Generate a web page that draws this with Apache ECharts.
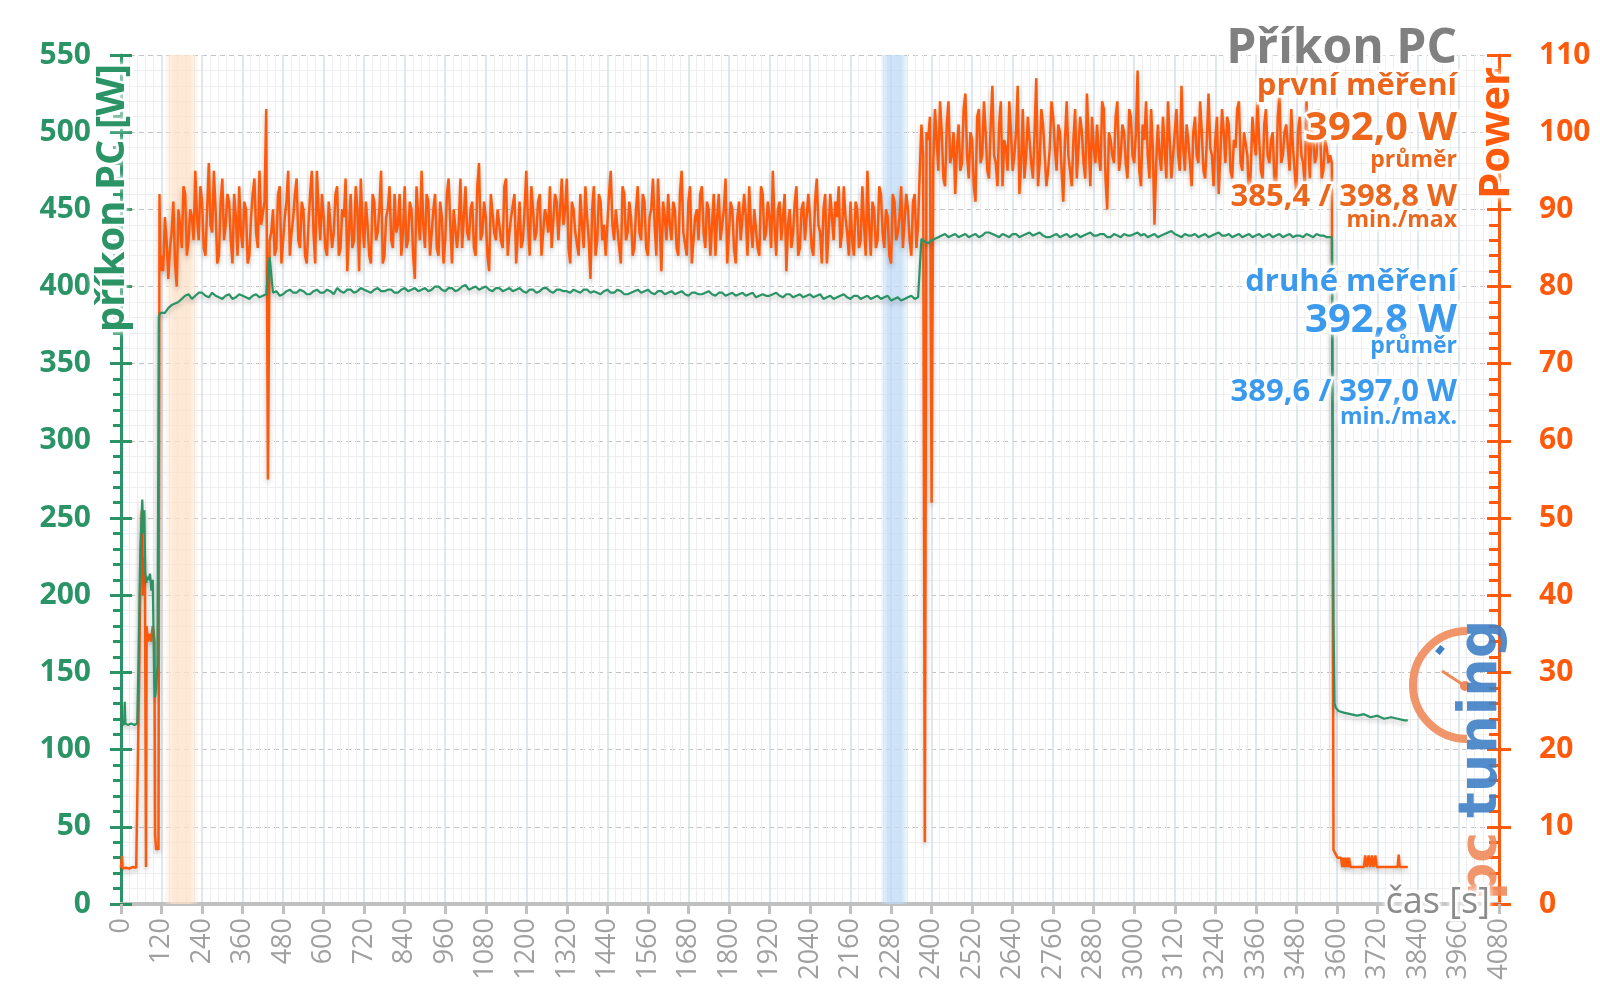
<!DOCTYPE html>
<html><head><meta charset="utf-8">
<script src="https://cdn.jsdelivr.net/npm/echarts@6/dist/echarts.min.js"></script>
<style>html,body{margin:0;padding:0;background:#fff}#c{width:1600px;height:999px}</style>
</head><body><div id="c"></div>
<script>
// ---------- DATA ----------
// shaded intervals [from, to] in seconds
const loadBandFirst = [130, 228];
const loadBandSecond = [2250, 2330];

// Power (right axis, %) – start, load phases (10 s steps + values between them), tail
const powerStartT = [0, 3, 5, 8, 15, 25, 35, 45, 50, 54, 58, 62, 65, 68, 71, 74, 76, 79, 84, 89, 94, 99, 101, 104, 108, 111, 114, 117];
const powerStartV = [4.7, 6.2, 4.6, 4.8, 4.7, 4.6, 4.8, 4.7, 4.7, 30, 46, 51, 40, 45, 42, 4.8, 36, 34, 35, 34, 36, 34, 9, 7, 7.5, 7, 92, 82];
const powerLoad1Start = 120, powerLoad1Step = 10;
const powerLoad1 = [
  84, 89, 81, 87, 83, 90, 85, 92, 86, 89,
  95, 86, 91, 84, 96, 87, 90, 84, 94, 88,
  91, 83, 89, 93, 85, 90, 84, 92, 87, 95,
  88, 103, 86, 90, 85, 93, 86, 91, 84, 89,
  94, 85, 90, 83, 92, 87, 95, 86, 89, 84,
  91, 87, 93, 85, 89, 82, 92, 86, 90, 94,
  85, 88, 83, 91, 87, 95, 84, 90, 86, 92,
  88, 84, 93, 86, 90, 81, 89, 95, 85, 91,
  87, 92, 84, 89, 86, 94, 83, 90, 88, 85,
  93, 86, 91, 84, 96, 87, 89, 82, 92, 86,
  90, 85, 94, 87, 89, 83, 91, 86, 95, 84,
  90, 87, 92, 84, 89, 93, 85, 91, 86, 88,
  94, 83, 90, 87, 92, 85, 89, 81, 93, 86,
  91, 88, 84, 95, 86, 90, 83, 92, 87, 89,
  85, 93, 86, 91, 84, 90, 88, 94, 82, 89,
  92, 86, 90, 84, 95, 87, 91, 83, 89, 86,
  93, 85, 90, 88, 84, 92, 86, 94, 87, 90,
  83, 91, 86, 89, 93, 85, 90, 84, 92, 87,
  89, 95, 84, 91, 86, 82, 90, 87, 93, 85,
  91, 86, 89, 84, 94, 87, 90, 83, 92, 86,
  89, 85, 93, 87, 91, 84, 90, 86, 88, 95,
  84, 90, 86, 92, 85, 89, 83, 91, 87, 93,
  85, 90, 84, 92, 88
];
// values 5 s after each of the above
const powerLoad1Mid = [
  82, 86, 85, 91, 80, 88, 93, 84, 90, 86,
  89, 93, 85, 90, 88, 95, 83, 91, 86, 92,
  86, 92, 84, 87, 91, 83, 89, 94, 85, 88,
  91, 55, 87, 84, 92, 83, 89, 95, 87, 92,
  86, 91, 84, 88, 95, 83, 90, 92, 85, 91,
  85, 92, 84, 90, 94, 87, 85, 93, 82, 88,
  91, 84, 92, 86, 90, 83, 89, 93, 85, 87,
  92, 87, 85, 91, 84, 93, 86, 88, 92, 84,
  90, 85, 91, 83, 92, 88, 90, 85, 94, 89,
  87, 90, 85, 93, 86, 91, 84, 92, 87, 90,
  86, 93, 84, 89, 92, 87, 85, 90, 88, 93,
  86, 91, 84, 90, 87, 85, 92, 86, 94, 90,
  85, 91, 87, 84, 88, 93, 86, 90, 84, 92,
  86, 84, 92, 88, 90, 85, 93, 86, 91, 84,
  90, 87, 92, 85, 89, 94, 84, 88, 91, 86,
  88, 91, 85, 92, 87, 84, 93, 86, 90, 92,
  87, 91, 84, 92, 89, 86, 90, 83, 91, 85,
  89, 86, 92, 84, 88, 90, 85, 93, 86, 91,
  85, 88, 90, 86, 92, 88, 85, 91, 84, 90,
  86, 92, 85, 91, 88, 83, 92, 87, 89, 91,
  93, 87, 89, 84, 86, 91, 85, 93, 84, 88,
  91, 85, 93, 87, 90, 84, 92, 86, 89, 85,
  92, 86, 91, 85, 95
];
const powerLoad2Start = 2370, powerLoad2Step = 10;
const powerLoad2 = [
  101, 8, 99, 52, 103, 95, 100, 93, 104, 97,
  92, 101, 96, 105, 94, 99, 91, 103, 97, 100,
  94, 106, 96, 101, 93, 98, 104, 95, 100, 92,
  103, 97, 99, 94, 107, 96, 101, 93, 98, 102,
  95, 100, 91, 104, 97, 99, 94, 102, 96, 105,
  93, 98, 101, 95, 103, 90, 99, 96, 104, 97,
  100, 94, 102, 96, 108, 93, 99, 97, 103, 88,
  101, 95, 98, 104, 94, 100, 97, 106, 95, 99,
  93, 102, 96, 100, 94, 105, 97, 99, 92, 103,
  96, 101, 94, 98, 104, 95, 100, 91, 102, 97,
  99, 94, 103, 96, 100, 93, 105, 97, 101, 95,
  98, 92, 102, 96, 104, 94, 99, 97, 101, 95,
  98, 97
];
const powerLoad2Mid = [
  97, 100, 102, 96, 99, 104, 94, 101, 96, 100,
  98, 95, 103, 97, 100, 93, 102, 96, 104, 95,
  101, 97, 93, 104, 99, 95, 100, 97, 106, 96,
  94, 102, 96, 100, 93, 103, 97, 95, 104, 98,
  101, 95, 99, 97, 93, 103, 98, 100, 94, 99,
  102, 96, 97, 104, 94, 100, 97, 102, 95, 101,
  96, 103, 97, 100, 95, 101, 104, 94, 98, 96,
  97, 102, 94, 99, 97, 103, 95, 98, 101, 96,
  100, 97, 104, 95, 99, 98, 93, 102, 97, 100,
  102, 95, 99, 103, 96, 100, 97, 95, 99, 104,
  95, 101, 97, 99, 94, 102, 96, 100, 98, 103,
  95, 100, 97, 93, 99, 101, 96, 103, 94, 99,
  96
];
const powerTailT = [3585, 3590, 3596, 3602, 3612, 3616, 3620, 3624, 3628, 3632, 3636, 3640, 3660, 3680, 3684, 3688, 3694, 3698, 3704, 3708, 3714, 3718, 3760, 3780, 3783, 3786, 3810];
const powerTailV = [96, 7, 6.5, 6, 6, 4.8, 6, 4.8, 6, 4.8, 6, 4.8, 4.8, 4.8, 6.3, 4.8, 6.3, 4.8, 6.3, 4.8, 6.3, 4.8, 4.8, 4.8, 6.4, 4.8, 4.8];

// PC input power (left axis, W)
const pcStartT = [0, 5, 9, 11, 13, 20, 30, 40, 48, 52, 56, 60, 63, 66, 69, 72, 75, 78, 82, 86, 90, 94, 98, 101, 104, 108, 112, 116];
const pcStartV = [118, 117, 116, 131, 117, 116, 117, 116, 117, 160, 215, 245, 262, 240, 255, 215, 208, 212, 210, 214, 203, 210, 150, 134, 140, 155, 380, 383];
const pcLoad1Start = 120, pcLoad1Step = 20;
const pcLoad1 = [
  382, 386, 389, 392, 395, 394, 396, 393, 394, 392,
  395, 393, 394, 392, 395, 394, 419, 397, 395, 398,
  396, 397, 395, 398, 396, 397, 399, 396, 398, 397,
  398, 396, 399, 397, 398, 396, 399, 398, 397, 399,
  398, 400, 397, 399, 398, 401, 399, 398, 400, 397,
  399, 398, 397, 399, 396, 398, 397, 399, 396, 398,
  397, 398, 396, 398, 397, 395, 398, 396, 397, 395,
  397, 396, 398, 395, 397, 396, 395, 397, 394, 396,
  395, 397, 394, 396, 395, 394, 396, 395, 393, 395,
  394, 396, 393, 395, 394, 393, 395, 394, 392, 394,
  393, 395, 392, 394, 393, 392, 394, 393, 391, 393,
  392, 394, 393
];
// values 10 s after each of the above
const pcLoad1Mid = [
  383, 388, 390, 394, 392, 396, 394, 396, 393, 394,
  392, 395, 393, 394, 393, 395, 396, 394, 397, 396,
  398, 395, 397, 396, 398, 395, 397, 398, 396, 399,
  397, 398, 397, 398, 396, 398, 397, 399, 398, 397,
  400, 398, 399, 397, 400, 398, 400, 399, 398, 399,
  397, 399, 398, 397, 398, 396, 399, 397, 398, 397,
  396, 397, 398, 396, 396, 397, 396, 398, 395, 396,
  398, 397, 396, 397, 395, 397, 396, 395, 396, 395,
  396, 395, 396, 394, 396, 395, 394, 396, 394, 394,
  395, 394, 395, 393, 395, 394, 393, 395, 393, 392,
  394, 393, 394, 392, 394, 393, 392, 394, 392, 391,
  393, 392
];
const pcLoad2Start = 2370, pcLoad2Step = 20;
const pcLoad2 = [
  431, 428, 431, 433, 432, 434, 433, 432, 434, 433,
  435, 433, 434, 432, 434, 433, 435, 434, 433, 432,
  434, 433, 432, 434, 433, 435, 433, 434, 432, 433,
  434, 433, 435, 434, 433, 432, 434, 436, 433, 434,
  433, 432, 434, 433, 435, 433, 432, 434, 433, 432,
  434, 433, 432, 434, 433, 432, 433, 434, 432, 433,
  432
];
const pcLoad2Mid = [
  429, 430, 432, 434, 433, 432, 434, 433, 432, 435,
  434, 432, 433, 434, 432, 434, 433, 435, 432, 433,
  432, 434, 433, 432, 434, 433, 434, 432, 434, 432,
  433, 434, 433, 432, 434, 433, 435, 434, 432, 433,
  434, 433, 432, 434, 433, 434, 433, 432, 434, 433,
  432, 434, 433, 432, 434, 433, 432, 433, 434, 433
];
const pcTailT = [3585, 3590, 3593, 3597, 3605, 3620, 3640, 3660, 3680, 3700, 3720, 3740, 3760, 3780, 3800, 3810];
const pcTailV = [432, 183, 130, 127, 125, 124, 123, 122, 123, 121, 122, 120, 121, 120, 119, 119];

// axis ranges
const xRange = [0, 4080], xStep = 120;
const yLeftRange = [0, 550], yLeftStep = 50;
const yRightRange = [0, 110], yRightStep = 10;

// texts
const titleText = 'Příkon PC';
const leftAxisName = 'příkon PC [W]';
const rightAxisName = 'Power';
const xAxisName = 'čas [s]';
const firstRun = ['první měření', '392,0 W', 'průměr', '385,4 / 398,8 W', 'min./max'];
const secondRun = ['druhé měření', '392,8 W', 'průměr', '389,6 / 397,0 W', 'min./max.'];

// ---------- BUILD ----------
function pairs(ts, vs) { return ts.map((t, i) => [t, vs[i]]); }
function interleave(start, step, main, mid) {
  const out = [];
  main.forEach((v, i) => {
    out.push([start + i * step, v]);
    if (i < mid.length) out.push([start + i * step + step / 2, mid[i]]);
  });
  return out;
}
const powerData = [].concat(pairs(powerStartT, powerStartV),
  interleave(powerLoad1Start, powerLoad1Step, powerLoad1, powerLoad1Mid),
  interleave(powerLoad2Start, powerLoad2Step, powerLoad2, powerLoad2Mid),
  pairs(powerTailT, powerTailV));
const pcData = [].concat(pairs(pcStartT, pcStartV),
  interleave(pcLoad1Start, pcLoad1Step, pcLoad1, pcLoad1Mid),
  interleave(pcLoad2Start, pcLoad2Step, pcLoad2, pcLoad2Mid),
  pairs(pcTailT, pcTailV));

const GREEN = '#2b9466', ORANGE = '#ff5a0c', TXT_OR = '#ec661c', BLUE = '#3b9aee', GRAY = '#808080';
const F = '"Open Sans", "DejaVu Sans", sans-serif';

function band(c, a) {
  return new echarts.graphic.LinearGradient(0, 0, 1, 0, [
    { offset: 0, color: 'rgba(' + c + ',0.15)' },
    { offset: 0.25, color: 'rgba(' + c + ',' + a + ')' },
    { offset: 0.75, color: 'rgba(' + c + ',' + a + ')' },
    { offset: 1, color: 'rgba(' + c + ',0.15)' }]);
}

function txt(str, x, y, size, color, align, rot, weight) {
  return {
    type: 'text', x: x, y: y, rotation: rot || 0, z: 100,
    style: {
      text: str, x: 0, y: 0,
      font: (weight || 'bold') + ' ' + size + 'px ' + F,
      fill: color, align: align || 'right', textAlign: align || 'right',
      verticalAlign: 'middle', textVerticalAlign: 'middle',
      stroke: 'rgba(255,255,255,0.95)', lineWidth: 5,
      textShadowColor: 'rgba(255,255,255,1)', textShadowBlur: 6
    }
  };
}

const RX = 1457;
const graphics = [
  txt(titleText, RX, 49, 48, GRAY),
  txt(firstRun[0], RX, 86, 31, TXT_OR),
  txt(firstRun[1], RX, 129, 40, TXT_OR),
  txt(firstRun[2], RX, 160, 23, TXT_OR),
  txt(firstRun[3], RX, 197, 31, TXT_OR),
  txt(firstRun[4], RX, 220, 23, TXT_OR),
  txt(secondRun[0], RX, 282, 31, BLUE),
  txt(secondRun[1], RX, 321, 40, BLUE),
  txt(secondRun[2], RX, 346, 23, BLUE),
  txt(secondRun[3], RX, 392, 31, BLUE),
  txt(secondRun[4], RX, 417, 23, BLUE),
  txt(leftAxisName, 113, 198, 40, GREEN, 'center', Math.PI / 2),
  txt(rightAxisName, 1497, 133, 42, ORANGE, 'center', Math.PI / 2),
  txt(xAxisName, 1490, 903, 36, '#8c8c8c', 'right', 0, 'normal'),
  // logo
  { type: 'arc', z: 90, shape: { cx: 1467, cy: 685, r: 54, startAngle: Math.PI / 2, endAngle: Math.PI * 1.5, clockwise: true },
    style: { stroke: '#f08a5a', lineWidth: 8, fill: null, opacity: 0.9 } },
  { type: 'line', z: 90, shape: { x1: 1442, y1: 671, x2: 1465, y2: 686 }, style: { stroke: '#f08a5a', lineWidth: 3 } },
  { type: 'circle', z: 90, shape: { cx: 1465, cy: 686, r: 5 }, style: { fill: '#f08a5a' } },
  { type: 'rect', z: 90, x: 1440, y: 650, rotation: -0.7, shape: { x: -3, y: -4, width: 6, height: 8 }, style: { fill: '#3f7fc4' } },
  { type: 'text', z: 91, x: 1482, y: 900, rotation: Math.PI / 2,
    style: { text: 'pc', x: 0, y: 0, font: 'bold 52px "DejaVu Sans"', fill: '#f08a5a', opacity: 0.9,
      align: 'left', textAlign: 'left', verticalAlign: 'middle', textVerticalAlign: 'middle' } },
  { type: 'text', z: 91, x: 1482, y: 818, rotation: Math.PI / 2,
    style: { text: 'tuning', x: 0, y: 0, font: 'bold 54px "DejaVu Sans"', fill: '#3f7fc4', opacity: 0.9,
      align: 'left', textAlign: 'left', verticalAlign: 'middle', textVerticalAlign: 'middle' } }
];

const chart = echarts.init(document.getElementById('c'), null, { renderer: 'canvas' });
chart.setOption({
  animation: false,
  backgroundColor: '#fff',
  grid: { left: 121, right: 101, top: 55, bottom: 95, containLabel: false, outerBoundsMode: 'none' },
  xAxis: {
    type: 'value', min: xRange[0], max: xRange[1], interval: xStep,
    axisLine: { show: true, onZero: false, lineStyle: { color: '#c0c0c0', width: 4 } },
    axisTick: { show: true, length: 10, lineStyle: { color: '#c0c0c0', width: 3 } },
    minorTick: { show: false, splitNumber: 5 },
    axisLabel: { rotate: 90, margin: 14, color: '#a0a0a0', fontSize: 27, fontFamily: F,
      showMinLabel: true, showMaxLabel: true, formatter: v => String(v) },
    splitLine: { show: true, lineStyle: { color: '#d6dfea', width: 1.5 } },
    minorSplitLine: { show: true, lineStyle: { color: '#eeeeee', width: 1 } }
  },
  yAxis: [
    { type: 'value', position: 'left', min: yLeftRange[0], max: yLeftRange[1], interval: yLeftStep,
      axisLine: { show: true, lineStyle: { color: GREEN, width: 3 } },
      axisTick: { show: true, length: 11, lineStyle: { color: GREEN, width: 3 } },
      minorTick: { show: true, splitNumber: 5, length: 8, lineStyle: { color: GREEN, width: 3 } },
      axisLabel: { color: GREEN, fontSize: 30, fontWeight: 'bold', fontFamily: F, margin: 30,
        showMinLabel: true, showMaxLabel: true, formatter: v => String(v) },
      splitLine: { show: true, lineStyle: { color: '#c4c4c4', width: 1, type: [5, 4] } },
      minorSplitLine: { show: true, lineStyle: { color: '#eeeeee', width: 1 } } },
    { type: 'value', position: 'right', min: yRightRange[0], max: yRightRange[1], interval: yRightStep,
      axisLine: { show: true, lineStyle: { color: ORANGE, width: 3 } },
      axisTick: { show: true, length: 12, lineStyle: { color: ORANGE, width: 3 } },
      minorTick: { show: false },
      axisLabel: { color: ORANGE, fontSize: 30, fontWeight: 'bold', fontFamily: F, margin: 40,
        showMinLabel: true, showMaxLabel: true, formatter: v => String(v) },
      splitLine: { show: false } },
    { type: 'value', position: 'left', min: yLeftRange[0], max: yLeftRange[1], interval: yLeftStep,
      axisLine: { show: false }, axisLabel: { show: false }, splitLine: { show: false },
      axisTick: { show: true, inside: true, length: 11, lineStyle: { color: GREEN, width: 3 } } },
    { type: 'value', position: 'right', min: yRightRange[0], max: yRightRange[1], interval: yRightStep,
      axisLine: { show: false }, axisLabel: { show: false }, splitLine: { show: false },
      axisTick: { show: true, inside: true, length: 12, lineStyle: { color: ORANGE, width: 3 } },
      minorTick: { show: true, splitNumber: 5, length: 10, lineStyle: { color: ORANGE, width: 3 } } }
  ],
  series: [
    { name: 'bands', type: 'line', yAxisIndex: 0, z: 1, data: [[0, 0]], showSymbol: false, silent: true,
      lineStyle: { opacity: 0 },
      markArea: { silent: true, data: [
        [{ xAxis: loadBandFirst[0], itemStyle: { color: band('253,225,200', 0.75) } }, { xAxis: loadBandFirst[1] }],
        [{ xAxis: loadBandSecond[0], itemStyle: { color: band('190,217,246', 0.75) } }, { xAxis: loadBandSecond[1] }]
      ] } },
    { name: 'Power', type: 'line', yAxisIndex: 1, z: 3, data: powerData, showSymbol: false, symbol: 'none',
      lineStyle: { color: ORANGE, width: 2.5, shadowColor: 'rgba(0,0,0,0.25)', shadowBlur: 5, shadowOffsetY: 3 } },
    { name: 'příkon PC', type: 'line', yAxisIndex: 0, z: 4, data: pcData, showSymbol: false, symbol: 'none',
      lineStyle: { color: GREEN, width: 2.2, shadowColor: 'rgba(0,0,0,0.25)', shadowBlur: 5, shadowOffsetY: 3 } }
  ],
  graphic: graphics
});
</script>
</body></html>
